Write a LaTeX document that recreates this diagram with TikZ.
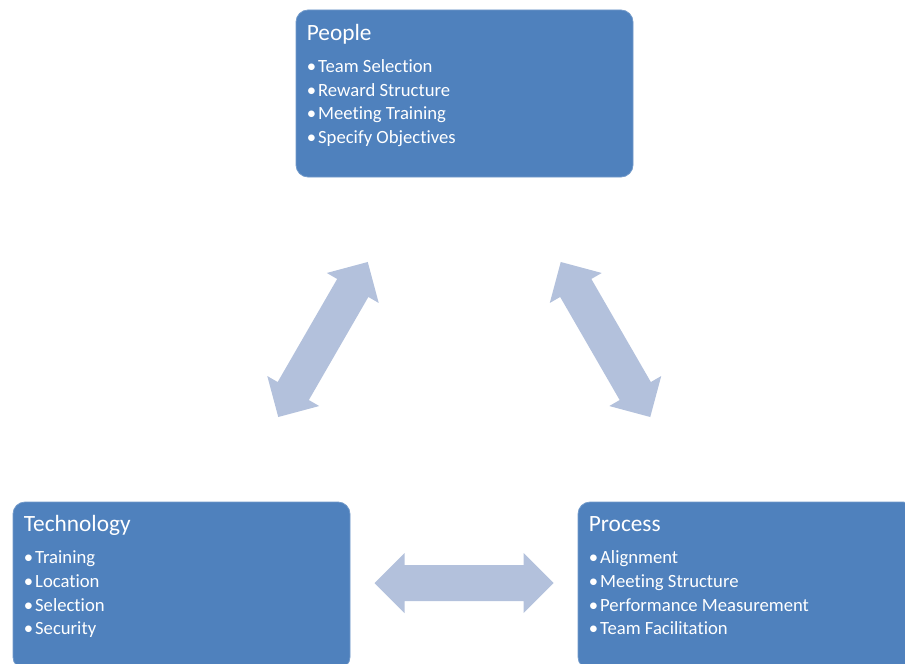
\documentclass[tikz,border=0pt]{standalone}
\usepackage{fontspec}
\setmainfont{Carlito}[Ligatures=NoCommon]
\usetikzlibrary{positioning,calc}
\definecolor{boxblue}{RGB}{79,129,189}
\definecolor{arrowblue}{RGB}{179,193,220}

\tikzset{
    twoway/.pic={
        \fill[arrowblue] (-89.5,0) -- (-59.5,-30) -- (-59.5,-18) -- (59.5,-18) -- (59.5,-30)
            -- (89.5,0) -- (59.5,30) -- (59.5,18) -- (-59.5,18) -- (-59.5,30) -- cycle;
    }
}

\begin{document}
\begin{tikzpicture}[
    x=0.75pt, y=-0.75pt,
    area/.style={rectangle, rounded corners=9pt, fill=boxblue, draw=boxblue!80!white, line width=0.6pt, minimum width=252.75pt, minimum height=125.25pt, inner sep=0pt},
    heading/.style={anchor=base west, inner sep=0pt, text=white, font=\fontsize{17.5}{20}\selectfont},
    entry/.style={anchor=base west, inner sep=0pt, text=white, font=\fontsize{14}{16}\selectfont}
]
    \useasboundingbox (0,0) rectangle (905,663);
    \clip (0,0) rectangle (905,663);

    % Areas
    \node[area] (people) at (464.5,93.5) {};
    \node[area] (tech) at (181.5,585.5) {};
    \node[area] (process) at (746.5,585.5) {};

    % Headings
    \node[heading] (people-head) at ($(people.north west)+(11,31)$) {People};
    \node[heading] (tech-head) at ($(tech.north west)+(11,30)$) {Technology};
    \node[heading] (process-head) at ($(process.north west)+(11,30)$) {Process};

    % Entries
    \foreach \txt [count=\i] in {Team Selection, Reward Structure, Meeting Training, Specify Objectives}
        \node[entry] (people-\i) at ($(people.north west)+(11,39.3+23.7*\i)$) {\textbullet\kern1.5pt\txt};
    \foreach \txt [count=\i] in {Training, Location, Selection, Security}
        \node[entry] (tech-\i) at ($(tech.north west)+(11,38.3+23.7*\i)$) {\textbullet\kern1.5pt\txt};
    \foreach \txt [count=\i] in {Alignment, Meeting Structure, Performance Measurement, Team Facilitation}
        \node[entry] (process-\i) at ($(process.north west)+(11,38.3+23.7*\i)$) {\textbullet\kern1.5pt\txt};

    % Links
    \pic[rotate=60] (people-tech) at ($(people)!0.5!(tech)$) {twoway};
    \pic[rotate=-60] (people-process) at ($(people)!0.5!(process)$) {twoway};
    \pic (tech-process) at ($(tech)!0.5!(process)+(0,-2.5)$) {twoway};
\end{tikzpicture}
\end{document}
